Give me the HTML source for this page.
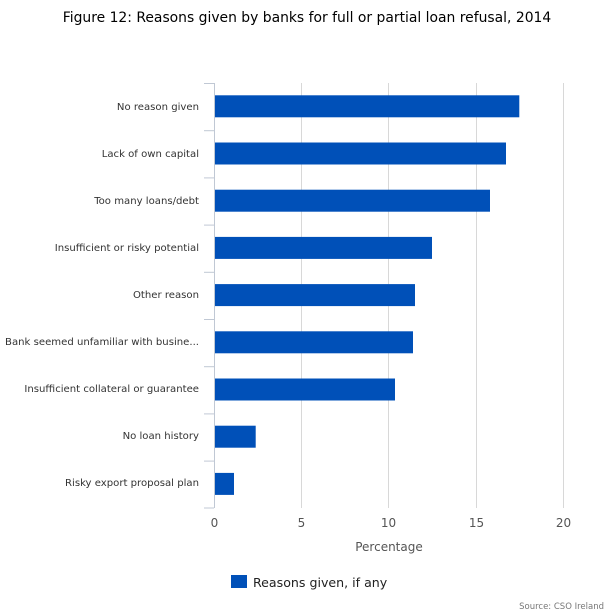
<!DOCTYPE html>
<html><head><meta charset="utf-8"><style>body{margin:0;background:#fff}svg{display:block}text{font-family:"DejaVu Sans","Liberation Sans",sans-serif}</style></head><body>
<svg width="614" height="614" viewBox="0 0 614 614" xmlns="http://www.w3.org/2000/svg">
<text x="307" y="22" text-anchor="middle" font-size="13.9" fill="#000">Figure 12: Reasons given by banks for full or partial loan refusal, 2014</text>
<g stroke="#d8d8d8" stroke-width="1">
<line x1="301.5" y1="83" x2="301.5" y2="508"/>
<line x1="388.5" y1="83" x2="388.5" y2="508"/>
<line x1="476.5" y1="83" x2="476.5" y2="508"/>
<line x1="563.5" y1="83" x2="563.5" y2="508"/>
</g>
<g stroke="#c0c8d4" stroke-width="1">
<line x1="214.5" y1="83" x2="214.5" y2="508"/>
<line x1="204" y1="83.5" x2="214" y2="83.5"/>
<line x1="204" y1="130.7" x2="214" y2="130.7"/>
<line x1="204" y1="177.9" x2="214" y2="177.9"/>
<line x1="204" y1="225.1" x2="214" y2="225.1"/>
<line x1="204" y1="272.3" x2="214" y2="272.3"/>
<line x1="204" y1="319.5" x2="214" y2="319.5"/>
<line x1="204" y1="366.7" x2="214" y2="366.7"/>
<line x1="204" y1="413.9" x2="214" y2="413.9"/>
<line x1="204" y1="461.1" x2="214" y2="461.1"/>
<line x1="204" y1="508" x2="214" y2="508"/>
</g>
<g fill="#0050b8">
<rect x="215" y="95.3" width="304.3" height="22"/>
<rect x="215" y="142.5" width="291" height="22"/>
<rect x="215" y="189.7" width="275" height="22"/>
<rect x="215" y="236.9" width="217" height="22"/>
<rect x="215" y="284.1" width="200" height="22"/>
<rect x="215" y="331.3" width="198" height="22"/>
<rect x="215" y="378.5" width="180" height="22"/>
<rect x="215" y="425.7" width="40.7" height="22"/>
<rect x="215" y="472.9" width="19" height="22"/>
</g>
<g font-size="10.1" fill="#333" text-anchor="end">
<text x="199" y="110">No reason given</text>
<text x="199" y="157">Lack of own capital</text>
<text x="199" y="204">Too many loans/debt</text>
<text x="199" y="251">Insufficient or risky potential</text>
<text x="199" y="298">Other reason</text>
<text x="199" y="345">Bank seemed unfamiliar with busine...</text>
<text x="199" y="392">Insufficient collateral or guarantee</text>
<text x="199" y="439">No loan history</text>
<text x="199" y="486">Risky export proposal plan</text>
</g>
<g font-size="12" fill="#555" text-anchor="middle">
<text x="214.5" y="527">0</text>
<text x="301.5" y="527">5</text>
<text x="388.5" y="527">10</text>
<text x="476.5" y="527">15</text>
<text x="563.5" y="527">20</text>
</g>
<text x="389" y="551" font-size="12" fill="#555" text-anchor="middle">Percentage</text>
<rect x="231" y="575" width="16" height="13" fill="#0050b8"/>
<text x="253" y="587" font-size="12.6" fill="#222">Reasons given, if any</text>
<text x="604" y="609" font-size="8.5" fill="#777" text-anchor="end">Source: CSO Ireland</text>
</svg>
</body></html>
